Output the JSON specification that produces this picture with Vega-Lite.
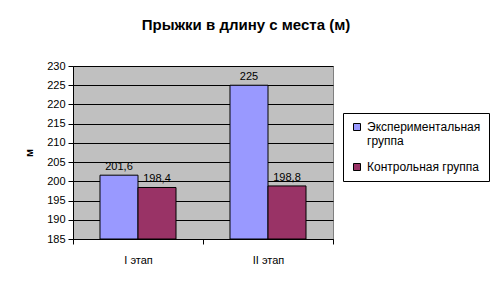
{
  "$schema": "https://vega.github.io/schema/vega-lite/v6.json",
  "width": 260,
  "height": 173,
  "autosize": {"type": "none"},
  "padding": {"left": 73, "top": 66, "right": 160, "bottom": 46},
  "background": "white",
  "config": {
    "locale": {"number": {"decimal": ",", "thousands": " ", "grouping": [3], "currency": ["", ""]}},
    "font": "Liberation Sans",
    "view": {"fill": "#C0C0C0", "stroke": "#808080", "strokeWidth": 1},
    "legend": {
      "orient": "none",
      "legendX": 270,
      "legendY": 47,
      "strokeColor": "black",
      "strokeWidth": 1,
      "padding": 8,
      "symbolType": "square",
      "symbolSize": 49,
      "symbolStrokeColor": "black",
      "symbolStrokeWidth": 1,
      "labelFontSize": 12,
      "labelColor": "black",
      "labelFont": "Liberation Sans",
      "rowPadding": 14,
      "labelLimit": 200
    }
  },
  "title": {
    "text": "Прыжки в длину с места (м)",
    "font": "Liberation Sans",
    "fontSize": 15,
    "fontWeight": "bold",
    "color": "black",
    "anchor": "middle",
    "dx": 43,
    "offset": 27
  },
  "data": {
    "values": [
      {"stage": "I этап", "group": "Экспериментальная группа", "value": 201.6},
      {"stage": "I этап", "group": "Контрольная группа", "value": 198.4},
      {"stage": "II этап", "group": "Экспериментальная группа", "value": 225},
      {"stage": "II этап", "group": "Контрольная группа", "value": 198.8}
    ]
  },
  "encoding": {
    "x": {
      "field": "stage",
      "type": "nominal",
      "sort": ["I этап", "II этап"],
      "scale": {"paddingInner": 0, "paddingOuter": 0},
      "title": null,
      "axis": {
        "labelAngle": 0,
        "tickBand": "extent",
        "tickSize": 5,
        "tickColor": "black",
        "domainColor": "black",
        "labelPadding": 10,
        "labelFontSize": 11,
        "labelColor": "black",
        "labelFont": "Liberation Sans"
      }
    },
    "xOffset": {
      "field": "group",
      "type": "nominal",
      "sort": ["Экспериментальная группа", "Контрольная группа"],
      "scale": {"paddingInner": 0, "paddingOuter": 0.71}
    },
    "y": {
      "field": "value",
      "type": "quantitative",
      "scale": {"domain": [185, 230], "nice": false, "zero": false},
      "title": "м",
      "axis": {
        "values": [185, 190, 195, 200, 205, 210, 215, 220, 225, 230],
        "grid": true,
        "gridColor": "black",
        "gridOpacity": 1,
        "gridWidth": 1,
        "tickSize": 5,
        "tickColor": "black",
        "domainColor": "black",
        "labelPadding": 3,
        "labelFontSize": 11,
        "labelColor": "black",
        "labelFont": "Liberation Sans",
        "titleFontSize": 11,
        "titleFontWeight": "bold",
        "titleColor": "black",
        "titlePadding": 12
      }
    }
  },
  "layer": [
    {
      "mark": {"type": "bar", "stroke": "black", "strokeWidth": 1, "clip": true},
      "encoding": {
        "y2": {"datum": 185},
        "color": {
          "field": "group",
          "type": "nominal",
          "title": null,
          "scale": {"domain": ["Экспериментальная группа", "Контрольная группа"], "range": ["#9999FF", "#993366"]},
          "legend": {
            "labelExpr": "datum.label == 'Экспериментальная группа' ? ['Экспериментальная', 'группа'] : datum.label"
          }
        }
      }
    },
    {
      "mark": {"type": "text", "baseline": "bottom", "dy": -3, "fontSize": 11, "color": "black", "font": "Liberation Sans"},
      "encoding": {
        "text": {"field": "value", "type": "quantitative", "format": ".1~f"}
      }
    }
  ]
}
